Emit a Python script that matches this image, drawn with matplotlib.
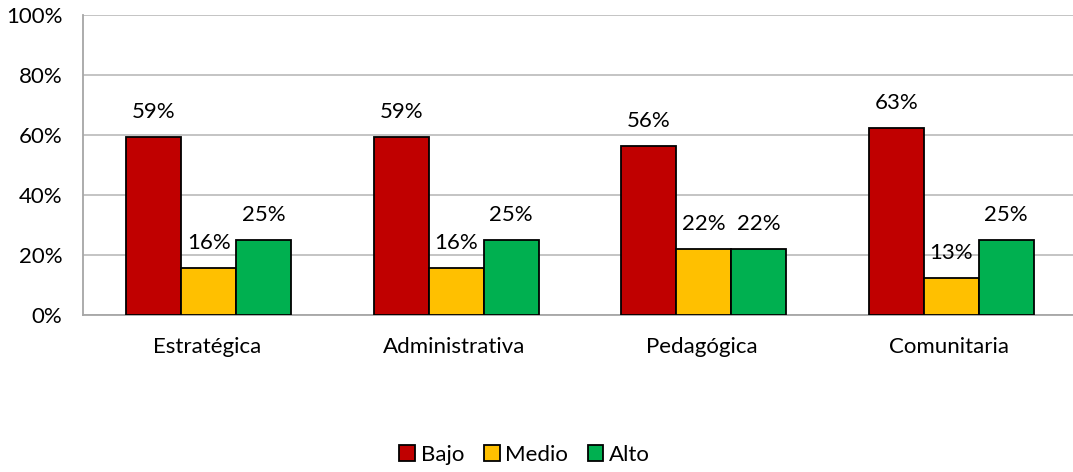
import matplotlib
matplotlib.use('Agg')
import matplotlib.pyplot as plt
import numpy as np

plt.rcParams['font.family'] = ['Lato', 'DejaVu Sans']

# datos
categorias = ['Estratégica', 'Administrativa', 'Pedagógica', 'Comunitaria']
bajo = [59.4, 59.4, 56.3, 62.5]
medio = [15.6, 15.6, 21.9, 12.5]
alto = [25.0, 25.0, 21.9, 25.0]
series = ['Bajo', 'Medio', 'Alto']
colores = ['#C00000', '#FFC000', '#00B050']

fs = 16

fig = plt.figure(figsize=(10.73, 4.72), dpi=100)
ax = fig.add_axes([0.0774, 0.3326, 0.9226, 0.6356])

x = np.arange(len(categorias))
ancho = 0.222
for i, (nombre, vals, col) in enumerate(zip(series, [bajo, medio, alto], colores)):
    pos = x + (i - 1) * ancho + 0.008
    barras = ax.bar(pos, vals, ancho, color=col, edgecolor='black', linewidth=1.3,
                    label=nombre, zorder=3)
    for b, v in zip(barras, vals):
        ax.annotate(f'{int(v + 0.5)}%', (b.get_x() + b.get_width() / 2, v),
                    xytext=(0, 18), textcoords='offset points',
                    ha='center', va='center', fontsize=fs, color='black')

ax.set_xlim(-0.5, 3.5)
ax.set_ylim(0, 100)
ax.set_yticks(range(0, 101, 20))
ax.set_yticklabels([f'{t}%' for t in range(0, 101, 20)], fontsize=fs)
ax.set_xticks(x)
ax.set_xticklabels(categorias, fontsize=fs)
ax.tick_params(axis='both', length=0)
ax.tick_params(axis='x', pad=16)
ax.tick_params(axis='y', pad=15)
ax.grid(axis='y', color='#BFBFBF', linewidth=1.3, zorder=0)
for s in ['top', 'right']:
    ax.spines[s].set_visible(False)
for s in ['left', 'bottom']:
    ax.spines[s].set_color('#A6A6A6')
    ax.spines[s].set_linewidth(1.3)

fig.legend(loc='center', bbox_to_anchor=(0.489, 0.036), ncol=3, frameon=False,
           fontsize=fs, handlelength=0.7, handleheight=0.7, handletextpad=0.25,
           columnspacing=0.9)

plt.savefig('out.png', dpi=100)
